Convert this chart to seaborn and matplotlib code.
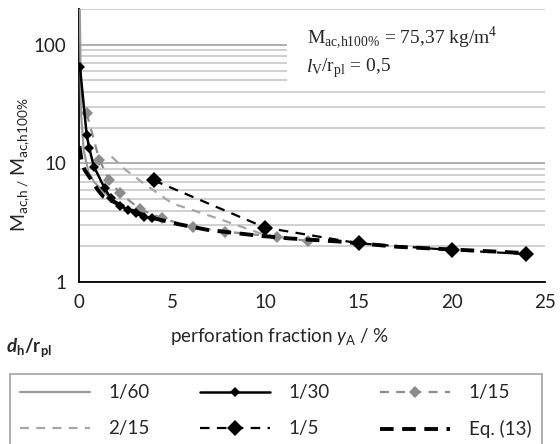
import numpy as np
import pandas as pd
import matplotlib
matplotlib.use("Agg")
import matplotlib.pyplot as plt
import matplotlib.ticker as mticker
from matplotlib.patches import Rectangle
import seaborn as sns

# values (x = perforation fraction in %, y = ratio)
x_1_60 = [0.03, 0.12, 0.25, 0.5, 0.8, 1.13, 1.5, 2.0, 2.5, 3.0, 3.5]
y_1_60 = [260, 25, 13, 8.5, 7.0, 6.2, 5.4, 4.7, 4.2, 3.8, 3.5]

x_1_30 = [0.05, 0.41, 0.55, 0.8, 1.38, 1.7, 2.18, 2.65, 3.05, 3.47, 3.93]
y_1_30 = [65, 17.5, 13.4, 9.4, 6.15, 5.1, 4.38, 4.05, 3.78, 3.55, 3.45]

x_1_15 = [0.41, 1.09, 1.63, 2.2, 3.28, 4.45, 6.1, 7.85, 10.6, 12.3]
y_1_15 = [26.5, 10.7, 7.2, 5.6, 4.1, 3.45, 2.88, 2.66, 2.4, 2.22]

x_2_15 = [1.75, 2.5, 3.46, 5.0, 7.4, 9.73, 10.6]
y_2_15 = [11.4, 8.8, 6.8, 4.6, 3.45, 2.57, 2.4]

x_1_5 = [4, 10, 15, 20, 24]
y_1_5 = [7.2, 2.87, 2.12, 1.86, 1.72]

x_eq13 = [0.02, 0.15, 0.3, 0.6, 1.0, 1.3, 1.84, 3.0, 4.0, 5.25, 6.9, 9.7, 11.3, 14, 17.1, 20, 22.5, 24]
y_eq13 = [14, 10.3, 8.8, 7.5, 6.0, 5.25, 4.76, 3.9, 3.45, 3.09, 2.75, 2.45, 2.33, 2.19, 1.98, 1.88, 1.8, 1.75]

sns.set_style("white")
plt.rcParams['font.family'] = ['Lato', 'DejaVu Sans']
plt.rcParams['mathtext.fontset'] = 'custom'
plt.rcParams['mathtext.rm'] = 'Lato'
plt.rcParams['mathtext.it'] = 'Lato:italic'
plt.rcParams['mathtext.bf'] = 'Lato:bold'
try:
    plt.rcParams['mathtext.bfit'] = 'Lato:italic:bold'
except KeyError:
    pass

W, H = 560, 444
fig = plt.figure(figsize=(W / 100, H / 100), dpi=100)
ax = fig.add_axes([79 / W, 1 - 282 / H, (545 - 79) / W, (282 - 9) / H])

gray = '#8c8c8c'
light = '#a6a6a6'

sns.lineplot(x=x_1_60, y=y_1_60, ax=ax, color='#9a9a9a', lw=1.6, label='1/60', zorder=3)
sns.lineplot(x=x_2_15, y=y_2_15, ax=ax, color=light, lw=1.6, linestyle=(0, (4, 3.3)),
             label='2/15', zorder=3)
sns.lineplot(x=x_1_15, y=y_1_15, ax=ax, color=gray, lw=1.6, linestyle=(0, (4, 3.3)),
             marker='D', markersize=6, markeredgewidth=0, label='1/15', zorder=3)
sns.lineplot(x=x_eq13, y=y_eq13, ax=ax, color='black', lw=2.8, linestyle=(0, (3.5, 2.2)),
             label='Eq. (13)', zorder=4)
sns.lineplot(x=x_1_30, y=y_1_30, ax=ax, color='black', lw=1.8,
             marker='D', markersize=5, markeredgewidth=0, label='1/30', zorder=5)
sns.lineplot(x=x_1_5, y=y_1_5, ax=ax, color='black', lw=1.6, linestyle=(0, (4.3, 3.3)),
             marker='D', markersize=8, markeredgewidth=0, label='1/5', zorder=5)

handles, labels = ax.get_legend_handles_labels()
if ax.get_legend() is not None:
    ax.get_legend().remove()
lookup = dict(zip(labels, handles))
order = ['1/60', '2/15', '1/30', '1/5', '1/15', 'Eq. (13)']

ax.set_yscale('log')
ax.set_ylim(1, 200)
ax.set_xlim(0, 25)
ax.set_yticks([1, 10, 100])
ax.yaxis.set_major_formatter(mticker.FuncFormatter(lambda v, _: f'{v:g}'))
ax.yaxis.set_minor_locator(mticker.LogLocator(base=10, subs=np.arange(2, 10)))
ax.yaxis.set_minor_formatter(mticker.NullFormatter())
ax.xaxis.set_major_locator(mticker.MultipleLocator(5))
ax.xaxis.set_minor_locator(mticker.MultipleLocator(1))

ax.set_axisbelow(True)
ax.yaxis.grid(True, which='major', color='#9a9a9a', lw=1.1)
ax.yaxis.grid(True, which='minor', color='#c4c4c4', lw=1.1)
ax.xaxis.grid(False)

for s in ['top', 'right']:
    ax.spines[s].set_visible(False)
for s in ['left', 'bottom']:
    ax.spines[s].set_color('black')
    ax.spines[s].set_linewidth(1.3)

ax.tick_params(axis='both', which='major', direction='inout', length=8, width=1.2,
               color='black', labelsize=13.5, labelcolor='#222222')
ax.tick_params(axis='y', which='major', pad=5)
ax.tick_params(axis='x', which='major', pad=5)
ax.tick_params(axis='both', which='minor', direction='in', length=4, width=1.1, color='black')

ax.set_xlabel(r'perforation fraction $\mathit{y}_\mathregular{A}$ / %', fontsize=13.5)
ax.xaxis.set_label_coords((280 - 79) / 466, -0.16)
ax.set_ylabel(r'M$_\mathregular{ac{,}h\ /\ }$M$_\mathregular{ac{,}h100\%}$', fontsize=14)
ax.yaxis.set_label_coords(-0.1, 0.43)

# white box behind the parameter text
ax.add_patch(Rectangle((0.446, 0.711), 0.56, 0.278, transform=ax.transAxes,
                       facecolor='white', edgecolor='none', zorder=1, clip_on=False))
fig.text(307 / W, 1 - 43 / H, r'M$_\mathregular{ac{,}h100\%}$ = 75,37 kg/m$^\mathregular{4}$',
         family='Liberation Serif', fontsize=14, va='baseline')
fig.text(307 / W, 1 - 72 / H, 'l', family='Liberation Serif', style='italic',
         fontsize=14, va='baseline')
fig.text(311 / W, 1 - 72 / H, r'${}_\mathregular{V}$/r$_\mathregular{pl}$ = 0,5',
         family='Liberation Serif', fontsize=14, va='baseline')

fig.text(6 / W, 1 - 352 / H, r'$\mathbfit{d}_\mathbf{h}$/$\mathbf{r}_\mathbf{pl}$',
         fontsize=13.5, fontweight='bold', va='baseline')

leg = fig.legend([lookup[k] for k in order], order, ncol=3, loc='upper left',
                 bbox_to_anchor=(10 / W, 1 - 374 / H), frameon=True, fancybox=False,
                 edgecolor='#8c8c8c', borderpad=0.55, handlelength=3.7, handletextpad=1.0,
                 columnspacing=2.7, labelspacing=1.0, fontsize=13.5, borderaxespad=0)
leg.get_frame().set_linewidth(1.2)

fig.savefig('out.png', dpi=100)
